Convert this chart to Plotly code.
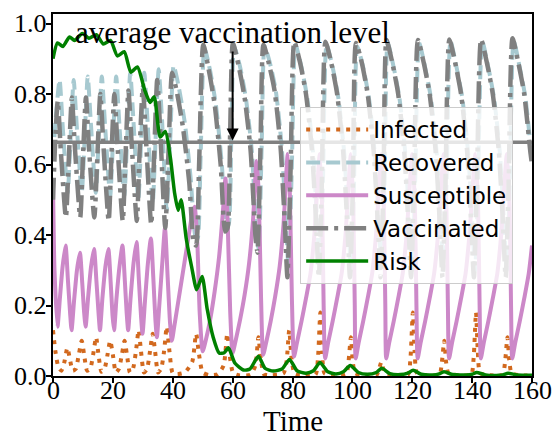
import plotly.graph_objects as go

# ---------------- data ----------------
infected_t = [0, 0.8, 1.8, 2.8, 3.8, 4.8, 5.6, 6.6, 7.6, 8.6, 9.6, 10.4, 11.4, 12.4, 13.4, 14.4, 15.2,
              16.2, 17.2, 18.2, 19.1, 20.0, 21.0, 22.0, 23.0, 23.9, 24.7, 25.7, 26.7, 27.7, 28.6, 29.4,
              30.4, 31.4, 32.4, 33.3, 34.1, 35.1, 36.1, 37.1, 38.0, 38.9, 39.9,
              41, 44, 46.5, 47.8, 48.8, 50, 52, 55, 57, 58.2, 59.0, 60.2, 62, 66, 67.6, 68.6, 69.4, 70.5,
              73, 77, 78.0, 78.9, 79.7, 80.8,
              84, 87.7, 88.5, 89.3, 89.9, 90.7, 94, 97.9, 98.7, 99.5, 100.1, 100.9, 104, 108.1, 108.9,
              109.7, 110.3, 111.1, 115, 118.6, 119.4, 120.2, 120.8, 121.6, 125, 129.1, 129.9, 130.7,
              131.3, 132.1, 136, 139.7, 140.5, 141.3, 141.9, 142.7, 146, 150.2, 151.0, 151.8, 152.4,
              153.2, 156, 160]
infected_v = [0.13, 0.07, 0.025, 0.015, 0.04, 0.08, 0.05, 0.015, 0.02, 0.06, 0.10, 0.06, 0.015, 0.02,
              0.06, 0.11, 0.06, 0.012, 0.02, 0.06, 0.10, 0.06, 0.01, 0.02, 0.06, 0.10, 0.06, 0.01, 0.02,
              0.07, 0.13, 0.07, 0.01, 0.02, 0.07, 0.12, 0.07, 0.01, 0.02, 0.07, 0.14, 0.07, 0.01,
              0.005, 0.01, 0.04, 0.12, 0.06, 0.01, 0.003, 0.005, 0.03, 0.12, 0.06, 0.008, 0.002, 0.004,
              0.03, 0.11, 0.05, 0.005, 0.002, 0.008, 0.04, 0.13, 0.05, 0.005,
              0.002, 0.004, 0.05, 0.18, 0.07, 0.008, 0.002, 0.004, 0.04, 0.11, 0.045, 0.008, 0.002,
              0.003, 0.02, 0.04, 0.02, 0.006, 0.002, 0.004, 0.05, 0.18, 0.07, 0.008, 0.002, 0.004,
              0.04, 0.10, 0.04, 0.008, 0.002, 0.004, 0.05, 0.18, 0.07, 0.008, 0.002, 0.004, 0.04,
              0.11, 0.045, 0.008, 0.002, 0.002]

recovered_t = [0, 1.0, 2.2, 3.3, 4.9, 5.9, 6.9, 8.0, 9.6, 10.6, 11.6, 12.7, 14.3, 15.3, 16.3, 17.4,
               19.1, 20.1, 21.1, 22.2, 23.8, 24.8, 25.8, 26.9, 28.5, 29.5, 30.5, 31.6, 33.3, 34.3, 35.3,
               36.4, 38.0, 39.2, 40.3,
               42, 44, 46, 47.5, 48.3, 49.3, 50.6, 52.4, 54.4, 56.4, 57.9, 58.7, 59.6, 60.5,
               62.4, 64.4, 66.4, 68.0, 68.7, 69.7, 70.7, 72.4, 74.4, 76.4, 77.9, 78.7, 79.8,
               81.0, 82.9, 84.9, 86.9, 88.2, 89.2, 90.2,
               91.4, 93.3, 95.3, 97.3, 98.6, 99.6, 100.6,
               101.6, 103.5, 105.5, 107.5, 108.8, 109.8, 110.8,
               111.8, 113.7, 115.7, 117.7, 119.0, 120.0, 121.0,
               122.3, 124.2, 126.2, 128.2, 129.5, 130.5, 131.5,
               132.8, 134.7, 136.7, 138.7, 140.0, 141.0, 142.0,
               143.4, 145.3, 147.3, 149.3, 150.6, 151.6, 152.6,
               153.9, 155.8, 157.8, 159.8, 160]
recovered_v = [0.62, 0.74, 0.84, 0.70, 0.52, 0.68, 0.84, 0.70, 0.52, 0.68, 0.85, 0.71, 0.52, 0.68,
               0.85, 0.71, 0.51, 0.68, 0.85, 0.71, 0.51, 0.68, 0.86, 0.72, 0.50, 0.68, 0.86, 0.72,
               0.49, 0.68, 0.87, 0.73, 0.47, 0.68, 0.88,
               0.82, 0.72, 0.56, 0.40, 0.39, 0.62, 0.93, 0.87, 0.77, 0.60, 0.42, 0.43, 0.70, 0.935,
               0.88, 0.79, 0.64, 0.40, 0.36, 0.65, 0.935, 0.89, 0.81, 0.65, 0.42, 0.30, 0.60,
               0.94, 0.88, 0.79, 0.63, 0.44, 0.30, 0.56,
               0.94, 0.88, 0.79, 0.63, 0.44, 0.30, 0.56,
               0.935, 0.88, 0.79, 0.63, 0.44, 0.30, 0.56,
               0.945, 0.88, 0.79, 0.63, 0.44, 0.30, 0.56,
               0.945, 0.88, 0.79, 0.63, 0.44, 0.30, 0.56,
               0.95, 0.88, 0.79, 0.63, 0.44, 0.30, 0.56,
               0.95, 0.88, 0.79, 0.63, 0.44, 0.30, 0.56,
               0.95, 0.88, 0.79, 0.63, 0.62]

susceptible_t = [0, 0.5, 1.5, 2.3, 3.2, 4.2, 5.0, 5.7, 6.2, 7.0, 8.0, 9.0, 9.8, 10.4, 10.9,
                 11.7, 12.7, 13.7, 14.5, 15.2, 15.7, 16.5, 17.5, 18.5, 19.3, 19.9, 20.4,
                 21.2, 22.2, 23.2, 24.0, 24.6, 25.1, 25.9, 26.9, 27.9, 28.7, 29.4, 29.9,
                 30.7, 31.7, 32.7, 33.5, 34.2, 34.7, 35.5, 36.5, 37.4, 38.3, 39.1, 39.7,
                 40.5, 42, 43.5, 45, 46.5, 47.3, 48.2, 49.0, 50.0,
                 51, 52.5, 54, 55.5, 56.7, 57.6, 58.4, 59.2, 60.0,
                 61, 62.5, 64, 65.5, 66.8, 68.0, 68.7, 69.5, 70.2,
                 71.2, 72.7, 74.2, 75.7, 77.0, 78.4, 79.1, 79.8, 80.5,
                 81.5, 83.0, 84.5, 86.0, 87.3, 89.1, 89.9, 90.4, 90.9,
                 91.9, 93.4, 94.9, 96.4, 97.7, 99.5, 100.3, 100.8, 101.1,
                 102.1, 103.6, 105.1, 106.6, 107.9, 109.7, 110.5, 111.0, 111.3,
                 112.3, 113.8, 115.3, 116.8, 118.1, 120.0, 120.9, 121.4, 121.8,
                 122.8, 124.3, 125.8, 127.3, 128.6, 130.5, 131.4, 131.9, 132.3,
                 133.3, 134.8, 136.3, 137.8, 139.1, 141.1, 142.0, 142.5, 142.9,
                 143.9, 145.4, 146.9, 148.4, 149.7, 151.6, 152.5, 153.0, 153.4,
                 154.4, 155.9, 157.4, 158.9, 160]
susceptible_v = [0.55, 0.30, 0.14, 0.22, 0.31, 0.37, 0.27, 0.18, 0.13, 0.21, 0.30, 0.35, 0.26, 0.18,
                 0.14, 0.22, 0.31, 0.36, 0.27, 0.18, 0.13, 0.22, 0.31, 0.36, 0.26, 0.17, 0.13,
                 0.22, 0.31, 0.37, 0.27, 0.18, 0.13, 0.22, 0.32, 0.38, 0.27, 0.17, 0.12,
                 0.21, 0.32, 0.39, 0.28, 0.16, 0.11, 0.20, 0.32, 0.42, 0.28, 0.15, 0.10,
                 0.14, 0.22, 0.30, 0.38, 0.46, 0.48, 0.38, 0.18, 0.07,
                 0.10, 0.16, 0.24, 0.34, 0.46, 0.56, 0.42, 0.18, 0.065,
                 0.10, 0.16, 0.23, 0.32, 0.44, 0.61, 0.52, 0.22, 0.06,
                 0.095, 0.155, 0.225, 0.31, 0.43, 0.63, 0.52, 0.22, 0.055,
                 0.095, 0.155, 0.22, 0.29, 0.40, 0.63, 0.48, 0.20, 0.05,
                 0.095, 0.155, 0.22, 0.29, 0.40, 0.63, 0.48, 0.20, 0.05,
                 0.095, 0.155, 0.22, 0.29, 0.40, 0.63, 0.48, 0.20, 0.05,
                 0.095, 0.155, 0.22, 0.29, 0.40, 0.63, 0.48, 0.20, 0.05,
                 0.095, 0.155, 0.22, 0.29, 0.40, 0.63, 0.48, 0.20, 0.05,
                 0.095, 0.155, 0.22, 0.29, 0.40, 0.63, 0.48, 0.20, 0.05,
                 0.095, 0.155, 0.22, 0.29, 0.40, 0.63, 0.48, 0.20, 0.05,
                 0.095, 0.155, 0.22, 0.29, 0.37]

vaccinated_t = [0, 0.8, 1.6, 2.6, 4.3, 5.3, 6.3, 7.3, 9.1, 10.0, 11.0, 12.0, 13.8, 14.8, 15.8, 16.8,
                18.6, 19.5, 20.5, 21.5, 23.3, 24.2, 25.2, 26.2, 28.0, 28.9, 30.0, 31.0, 32.8, 33.8,
                34.8, 35.8, 37.5, 38.6, 39.8,
                41.5, 43.5, 45.5, 47.0, 47.8, 48.8, 50.2, 52, 54, 56, 57.5, 58.3, 59.2, 60.1,
                62, 64, 66, 67.6, 68.3, 69.3, 70.3, 72, 74, 76, 77.5, 78.3, 79.4,
                80.6, 82.5, 84.5, 86.5, 87.8, 88.8, 89.8,
                91.0, 92.9, 94.9, 96.9, 98.2, 99.2, 100.2,
                101.2, 103.1, 105.1, 107.1, 108.4, 109.4, 110.4,
                111.4, 113.3, 115.3, 117.3, 118.6, 119.6, 120.6,
                121.9, 123.8, 125.8, 127.8, 129.1, 130.1, 131.1,
                132.4, 134.3, 136.3, 138.3, 139.6, 140.6, 141.6,
                143.0, 144.9, 146.9, 148.9, 150.2, 151.2, 152.2,
                153.5, 155.4, 157.4, 159.4, 160]
vaccinated_v = [0.50, 0.68, 0.78, 0.64, 0.45, 0.62, 0.79, 0.65, 0.45, 0.62, 0.79, 0.65, 0.45, 0.62,
                0.80, 0.66, 0.44, 0.62, 0.80, 0.66, 0.44, 0.62, 0.81, 0.67, 0.44, 0.63, 0.82, 0.68,
                0.43, 0.63, 0.84, 0.70, 0.42, 0.64, 0.86,
                0.80, 0.70, 0.55, 0.38, 0.37, 0.60, 0.94, 0.87, 0.77, 0.60, 0.41, 0.42, 0.70, 0.944,
                0.88, 0.79, 0.64, 0.40, 0.35, 0.65, 0.94, 0.89, 0.81, 0.65, 0.42, 0.28, 0.60,
                0.948, 0.89, 0.80, 0.64, 0.45, 0.28, 0.55,
                0.948, 0.89, 0.80, 0.64, 0.45, 0.28, 0.55,
                0.945, 0.89, 0.80, 0.64, 0.45, 0.28, 0.55,
                0.953, 0.89, 0.80, 0.64, 0.45, 0.28, 0.55,
                0.953, 0.89, 0.80, 0.64, 0.45, 0.28, 0.55,
                0.955, 0.89, 0.80, 0.64, 0.45, 0.28, 0.55,
                0.955, 0.89, 0.80, 0.64, 0.45, 0.28, 0.55,
                0.958, 0.89, 0.80, 0.64, 0.60]

risk_t = [0, 1.5, 3.3, 5.5, 7.2, 9.8, 12.0, 14.5, 16.8, 19.2, 21.5, 23.8, 26.0, 28.2, 30.6, 32.4,
          33.8, 35.8, 37.5, 39.2, 40.6, 41.8, 42.8, 44.5, 46.3, 48.0, 49.8, 51.5, 53.5, 55.5, 57.2,
          58.6, 60.8, 63.6, 65.8, 68.6, 70.8, 73.6, 76.5, 79.0, 81.5, 84.5, 87, 89.2, 91.8, 94.5,
          97, 99.3, 102, 105, 108, 109.8, 112.5, 116, 118.5, 120.3, 123, 127, 129, 130.6, 133.5,
          138, 140, 141.5, 144.5, 149, 150.5, 152, 155, 160]
risk_v = [0.90, 0.945, 0.935, 0.962, 0.952, 0.972, 0.958, 0.968, 0.942, 0.952, 0.908, 0.92, 0.862,
          0.877, 0.812, 0.776, 0.792, 0.678, 0.694, 0.62, 0.52, 0.47, 0.50, 0.39, 0.31, 0.245,
          0.282, 0.19, 0.11, 0.065, 0.066, 0.08, 0.036, 0.017, 0.02, 0.056, 0.022, 0.014, 0.02,
          0.047, 0.015, 0.008, 0.015, 0.038, 0.012, 0.006, 0.012, 0.03, 0.01, 0.005, 0.01, 0.022,
          0.007, 0.004, 0.008, 0.016, 0.005, 0.003, 0.006, 0.012, 0.004, 0.003, 0.005, 0.01,
          0.003, 0.002, 0.004, 0.008, 0.003, 0.002]

average_vaccination_level = 0.663
annotation_time = 60
annotation_text = "average vaccination level"
x_ticks = [0, 20, 40, 60, 80, 100, 120, 140, 160]
x_tick_labels = ["0", "20", "40", "60", "80", "100", "120", "140", "160"]
y_ticks = [0.0, 0.2, 0.4, 0.6, 0.8, 1.0]
y_tick_labels = ["0.0", "0.2", "0.4", "0.6", "0.8", "1.0"]
x_title = "Time"

# ---------------- figure ----------------
SERIF = "Liberation Serif"
SANS = "DejaVu Sans"
TICK_SIZE = 26

fig = go.Figure()
fig.add_trace(go.Scatter(x=infected_t, y=infected_v, name="Infected", mode="lines",
                         line=dict(color="#d2691e", width=4, dash="4px,6px", shape="spline", smoothing=0.6)))
fig.add_trace(go.Scatter(x=recovered_t, y=recovered_v, name="Recovered", mode="lines",
                         line=dict(color="#a7c9d0", width=4, dash="14px,6px", shape="spline", smoothing=0.6)))
fig.add_trace(go.Scatter(x=susceptible_t, y=susceptible_v, name="Susceptible", mode="lines",
                         line=dict(color="#cc88c8", width=4, shape="spline", smoothing=0.6)))
fig.add_trace(go.Scatter(x=vaccinated_t, y=vaccinated_v, name="Vaccinated", mode="lines",
                         line=dict(color="#808080", width=4.5, dash="22px,6px,4px,6px", shape="spline",
                                   smoothing=0.6)))
fig.add_trace(go.Scatter(x=[x_ticks[0], x_ticks[-1]],
                         y=[average_vaccination_level, average_vaccination_level],
                         mode="lines", showlegend=False, hoverinfo="skip",
                         line=dict(color="#808080", width=3.5)))
fig.add_trace(go.Scatter(x=risk_t, y=risk_v, name="Risk", mode="lines",
                         line=dict(color="#008000", width=3.5, shape="spline", smoothing=0.6)))

fig.add_annotation(x=annotation_time, y=average_vaccination_level + 0.005, ax=annotation_time, ay=0.925,
                   xref="x", yref="y", axref="x", ayref="y", text="", showarrow=True,
                   arrowhead=2, arrowsize=1.2, arrowwidth=2, arrowcolor="black")
fig.add_annotation(x=annotation_time, y=0.975, xref="x", yref="y", text=annotation_text,
                   showarrow=False, font=dict(family=SERIF, size=31, color="black"),
                   xanchor="center", yanchor="middle")

# tick labels drawn as serif text at the tick positions
for xv, lab in zip(x_ticks, x_tick_labels):
    fig.add_annotation(x=xv, y=0, xref="x", yref="paper", text=lab, showarrow=False,
                       xanchor="center", yanchor="middle", yshift=-14.5, borderpad=0,
                       font=dict(family=SERIF, size=TICK_SIZE, color="black"))
for yv, lab in zip(y_ticks, y_tick_labels):
    fig.add_annotation(x=0, y=yv, xref="paper", yref="y", text=lab, showarrow=False,
                       xanchor="right", yanchor="middle", xshift=-5, borderpad=0,
                       font=dict(family=SERIF, size=TICK_SIZE, color="black"))
fig.add_annotation(x=0.5, y=0, xref="paper", yref="paper", text=x_title, showarrow=False,
                   xanchor="center", yanchor="middle", yshift=-44.9, borderpad=0,
                   font=dict(family=SERIF, size=29, color="black"))

axis_common = dict(showgrid=False, zeroline=False, showline=True, linecolor="black", linewidth=2,
                   mirror=True, ticks="outside", ticklen=5, tickwidth=2, tickcolor="black",
                   showticklabels=False, automargin=False)
fig.update_xaxes(range=[0, 160], tickvals=x_ticks, **axis_common)
fig.update_yaxes(range=[0, 1.027], tickvals=y_ticks, **axis_common)

fig.update_layout(width=557, height=437, margin=dict(l=53, r=25, t=14, b=61, autoexpand=False),
                  font=dict(family=SERIF, size=26, color="black"),
                  plot_bgcolor="white", paper_bgcolor="white",
                  legend=dict(x=0.516, y=0.743, xanchor="left", yanchor="top",
                              bgcolor="rgba(255,255,255,0.8)", bordercolor="#cccccc", borderwidth=1,
                              font=dict(family=SANS, size=23, color="black"), itemwidth=62,
                              tracegroupgap=0))

fig.write_html("out.html", config={"displayModeBar": False},
               post_script="document.body.style.margin='0px';")
